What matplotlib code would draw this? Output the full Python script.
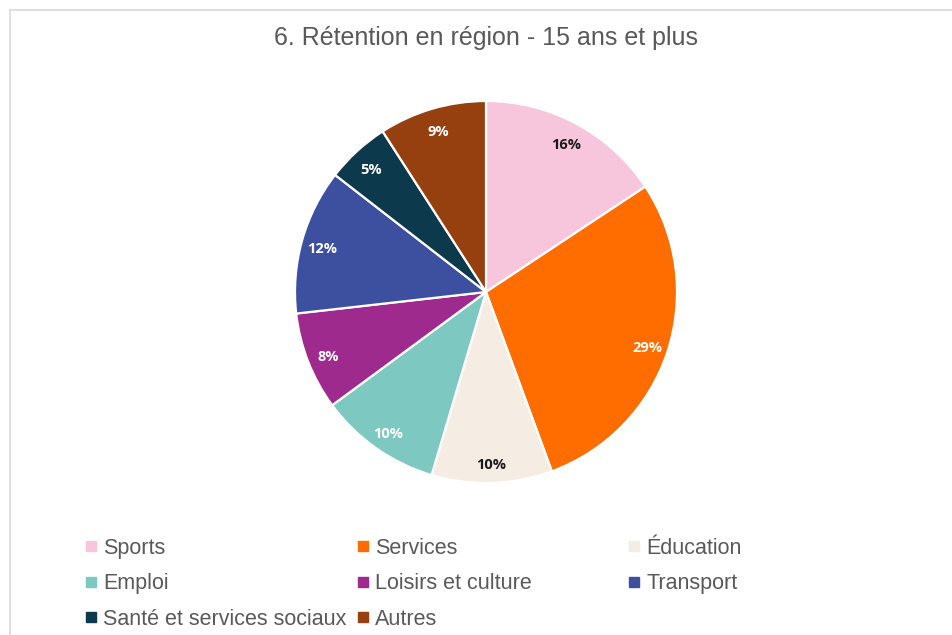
import matplotlib
matplotlib.use("Agg")
import matplotlib.pyplot as plt
import matplotlib.transforms as mtransforms
from matplotlib.lines import Line2D

# ---------------------------------------------------------------------------
# Data
# ---------------------------------------------------------------------------
categories = ["Sports", "Services", "Éducation", "Emploi",
              "Loisirs et culture", "Transport", "Santé et services sociaux",
              "Autres"]
shares = [15.7, 28.7, 10.2, 10.3, 8.3, 12.3, 5.4, 9.1]
colors = ["#F7C6DC", "#FF6D00", "#F5ECE4", "#7EC8C2",
          "#9E2A8E", "#3D50A0", "#0D394D", "#97400F"]
label_colors = ["#1A1A1A", "white", "#1A1A1A", "white",
                "white", "white", "white", "white"]
title = "6. Rétention en région - 15 ans et plus"

W, H = 953, 635
fig = plt.figure(figsize=(W / 100, H / 100), dpi=100)
fig.patch.set_facecolor("white")

# chart frame (top and left edges visible)
fig.add_artist(Line2D([10 / W, 10 / W], [0, 1 - 10 / H], transform=fig.transFigure,
                      color="#D9D9D9", linewidth=1.2))
fig.add_artist(Line2D([10 / W, 1], [1 - 10 / H, 1 - 10 / H], transform=fig.transFigure,
                      color="#D9D9D9", linewidth=1.2))

# pie placement
cx, cy, r = 486, 292, 191
ax = fig.add_axes([(cx - r) / W, (H - cy - r) / H, 2 * r / W, 2 * r / H])
wedges, texts, autotexts = ax.pie(
    shares, colors=colors, startangle=90, counterclock=False,
    autopct="%.0f%%", pctdistance=0.89,
    wedgeprops=dict(edgecolor="white", linewidth=1.6),
    textprops=dict(fontsize=10.5, fontweight="bold", family="Open Sans"),
)
shift = mtransforms.offset_copy(ax.transData, fig=fig, x=0, y=-3, units="dots")
for t, c in zip(autotexts, label_colors):
    t.set_color(c)
    t.set_transform(shift)
ax.set_xlim(-1.0, 1.0)
ax.set_ylim(-1.0, 1.0)
ax.set_aspect("auto")
ax.axis("off")

fig.text(cx / W, 1 - 38 / H, title, ha="center", va="center",
         fontsize=18, color="#595959", family="Liberation Sans")

# legend: three columns placed like the reference
fs = 15.5
col_x = [91.5, 363, 634.5]
row_y = [548, 582, 616]
layout = [[0, 3, 6], [1, 4, 7], [2, 5]]
for x, idxs in zip(col_x, layout):
    handles = [Line2D([], [], marker="s", linestyle="none", markersize=6.5,
                      markerfacecolor=colors[i], markeredgecolor=colors[i])
               for i in idxs]
    leg = fig.legend(handles, [categories[i] for i in idxs],
                     loc="upper left",
                     bbox_to_anchor=((x - 6.5) / W, 1 - (row_y[0] - 10) / H),
                     frameon=False, handlelength=0.6, handletextpad=0.24,
                     labelspacing=0.67, borderpad=0, borderaxespad=0,
                     prop=dict(family="Liberation Sans", size=fs))
    for t in leg.get_texts():
        t.set_color("#595959")

fig.savefig("out.png", dpi=100)
